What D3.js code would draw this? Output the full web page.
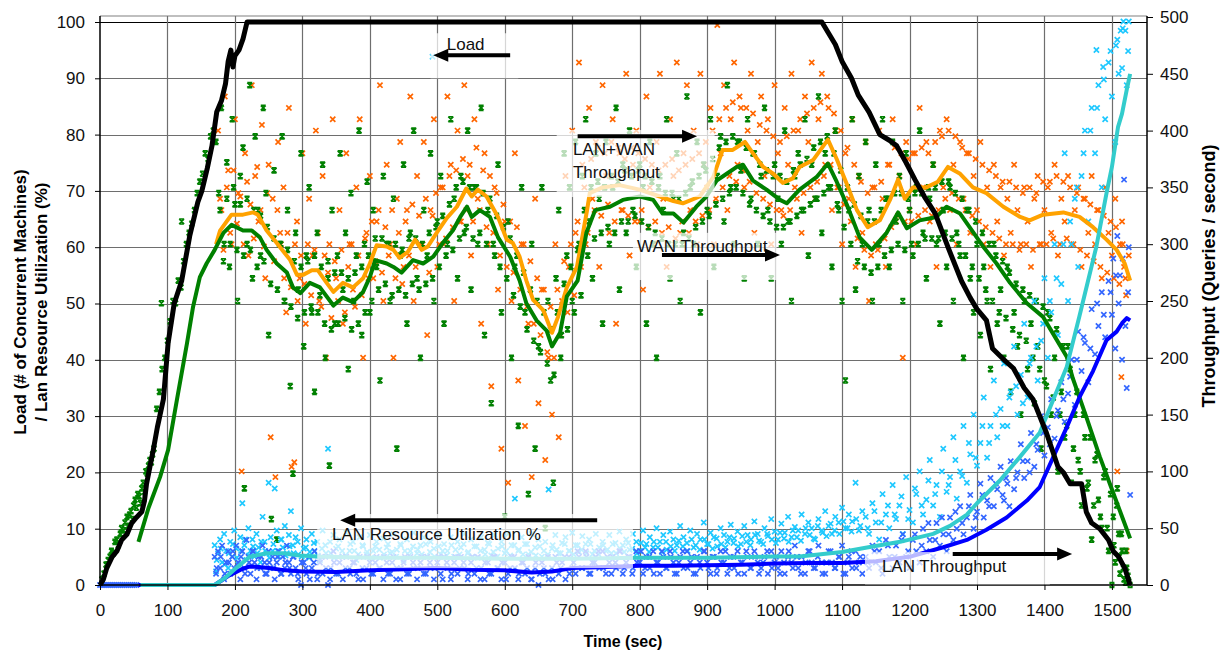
<!DOCTYPE html>
<html>
<head>
<meta charset="utf-8">
<script src="https://cdn.jsdelivr.net/npm/d3@7"></script>
<style>
  body { margin: 0; background: #fff; }
  svg text { font-family: "Liberation Sans", Arial, Helvetica, sans-serif; }
</style>
</head>
<body>
<div id="chart"></div>
<script>
// tick labels
var timeTicks = [0,100,200,300,400,500,600,700,800,900,1000,1100,1200,1300,1400,1500];
var loadTicks = [0,10,20,30,40,50,60,70,80,90,100];
var rateTicks = [0,50,100,150,200,250,300,350,400,450,500];

// Load (# machines), left axis
var loadLine = [[0,0],[5,1],[10,3],[18,5],[25,6],[32,8],[40,9],[47,11],[54,12],[62,13],[66,15],[69,18],[74,21],[79,24],[85,28],[94,33],[101,43],[110,50],[121,54],[133,62],[145,68],[151,70],[159,74],[166,78],[173,84],[180,86],[186,89],[190,93],[194,95],[197,92],[200,94],[206,95],[212,97],[218,100],[1070,100],[1080,98],[1090,96],[1100,93],[1114,90],[1124,87],[1140,84],[1156,80],[1170,79],[1181,78],[1195,75],[1208,72],[1222,69],[1238,66],[1257,60],[1277,54],[1290,51],[1300,49],[1314,47],[1323,42],[1340,40],[1354,38.5],[1370,35],[1383,33],[1403,27],[1420,21],[1428,20],[1438,18],[1455,18],[1462,13],[1470,11],[1482,10],[1495,8],[1502,6],[1510,5],[1519,3],[1527,0]];

// LAN+WAN throughput moving average, right axis
var totalLine = [[172,300],[178,312],[195,326],[212,326],[227,328],[234,326],[247,312],[262,301],[282,286],[292,273],[301,273],[314,277],[323,277],[336,266],[346,258],[360,266],[375,262],[390,270],[400,283],[410,299],[425,298],[435,295],[444,288],[456,293],[467,304],[477,295],[486,298],[499,310],[514,323],[529,333],[543,349],[551,342],[560,348],[573,342],[590,324],[603,304],[612,301],[622,289],[632,268],[642,251],[657,242],[670,222],[679,236],[692,262],[707,280],[722,330],[726,345],[745,350],[770,352],[800,348],[830,342],[850,338],[864,336],[889,342],[909,359],[923,383],[938,383],[956,390],[968,380],[983,368],[998,362],[1012,354],[1027,358],[1037,368],[1057,374],[1079,392],[1092,375],[1107,353],[1122,330],[1138,315],[1156,321],[1171,339],[1183,357],[1193,340],[1205,350],[1225,350],[1242,355],[1257,368],[1275,362],[1294,350],[1314,345],[1339,333],[1364,324],[1378,321],[1398,326],[1428,328],[1452,324],[1472,315],[1492,304],[1507,295],[1519,283],[1527,268]];

// WAN throughput moving average, right axis
var wanLine = [[57,38],[72,68],[89,95],[101,119],[114,163],[129,213],[138,245],[148,271],[158,283],[170,295],[183,310],[195,317],[212,312],[225,312],[237,306],[247,295],[262,283],[277,275],[286,262],[297,257],[311,266],[326,262],[346,246],[360,253],[375,249],[390,258],[400,271],[408,286],[425,283],[435,280],[447,275],[464,286],[479,283],[494,289],[508,301],[523,312],[534,324],[544,333],[551,324],[563,330],[578,324],[590,306],[608,289],[622,268],[632,248],[647,233],[662,224],[670,210],[682,222],[692,254],[708,268],[721,310],[734,330],[756,333],[775,339],[800,342],[820,339],[834,327],[850,327],[865,319],[884,333],[899,342],[914,356],[929,362],[944,368],[953,370],[968,356],[988,348],[1008,339],[1018,336],[1037,348],[1062,359],[1079,371],[1092,355],[1107,335],[1126,306],[1144,295],[1166,310],[1183,328],[1196,314],[1215,321],[1240,324],[1255,333],[1275,327],[1289,315],[1309,298],[1329,283],[1349,266],[1374,248],[1398,236],[1418,216],[1433,201],[1442,182],[1462,148],[1482,113],[1502,81],[1517,57],[1527,41]];

// LAN throughput moving average, right axis
var lanLine = [[60,0],[170,0],[185,6],[198,13],[210,19],[222,25],[247,28],[272,28],[296,26],[321,25],[400,24],[500,24],[600,23],[700,23],[800,24],[900,24],[1000,25],[1037,25],[1100,29],[1137,33],[1186,38],[1235,45],[1260,52],[1285,62],[1300,72],[1334,92],[1364,113],[1393,134],[1413,163],[1433,192],[1452,237],[1477,298],[1492,345],[1500,368],[1509,403],[1515,415],[1522,436],[1527,450]];

// LAN resource utilization moving average, left axis
var utilLine = [[57,0],[170,0],[180,0.8],[190,1.6],[200,2.2],[210,2.8],[222,3.3],[235,3.2],[250,3.0],[275,2.6],[300,2.4],[350,2.3],[400,2.6],[450,2.8],[500,3.0],[550,2.7],[600,2.6],[640,2.2],[670,2.4],[700,3.0],[750,3.2],[800,3.4],[850,3.4],[900,3.5],[950,3.6],[1000,3.8],[1050,3.9],[1100,3.9],[1150,4.2],[1200,5.0],[1250,6.7],[1285,8],[1314,9.8],[1344,12],[1374,15],[1393,17.4],[1413,22.7],[1433,28],[1452,33.4],[1472,38],[1492,43.5],[1507,45],[1515,46.5],[1522,47.4],[1527,47]];

// per-second samples: LAN+WAN throughput
var totalPts = [[175,400],[180,330],[185,430],[190,365],[195,300],[200,410],[205,345],[210,100],[215,380],[220,290],[225,440],[230,360],[235,320],[240,405],[245,270],[250,370],[253,130],[256,340],[260,95],[264,390],[268,300],[272,350],[276,240],[280,420],[284,104],[288,108],[292,320],[296,270],[300,380],[305,230],[310,340],[315,290],[320,400],[325,250],[330,360],[335,200],[340,300],[345,410],[350,270],[355,330],[360,230],[365,380],[370,300],[375,260],[380,350],[385,410],[390,200],[395,310],[400,360],[405,270],[410,320],[415,440],[420,250],[425,370],[430,300],[435,200],[440,340],[445,390],[450,280],[455,330],[460,430],[465,250],[470,360],[475,300],[480,390],[485,220],[490,330],[495,410],[500,280],[505,350],[510,300],[515,430],[520,370],[525,250],[530,400],[535,320],[540,440],[545,360],[550,290],[555,410],[560,340],[565,230],[570,380],[575,300],[580,175],[585,350],[590,260],[595,120],[600,320],[605,90],[610,250],[615,380],[620,180],[625,300],[630,140],[635,230],[640,95],[645,340],[650,160],[655,260],[660,110],[665,200],[670,150],[675,300],[680,130],[685,250],[690,360],[695,280],[700,400],[705,310],[710,460],[715,370],[720,300],[725,420],[730,340],[735,390],[740,280],[745,440],[750,360],[755,310],[760,410],[765,230],[770,380],[775,330],[780,450],[785,290],[790,370],[795,400],[800,320],[805,260],[810,430],[815,350],[820,300],[825,390],[830,450],[835,340],[840,280],[845,410],[850,360],[855,460],[860,310],[865,380],[870,440],[875,330],[880,400],[885,300],[890,450],[895,370],[900,350],[905,420],[910,300],[915,493],[920,380],[925,440],[930,330],[935,410],[940,460],[945,370],[950,420],[955,350],[960,400],[965,450],[970,310],[975,390],[980,430],[985,360],[990,410],[995,300],[1000,440],[1005,380],[1010,330],[1015,420],[1020,370],[1025,450],[1030,350],[1035,400],[1040,310],[1045,430],[1050,390],[1055,460],[1060,340],[1065,410],[1070,450],[1075,370],[1080,420],[1085,330],[1090,400],[1095,350],[1100,300],[1105,380],[1110,340],[1115,410],[1120,280],[1125,360],[1130,310],[1135,390],[1140,250],[1145,350],[1150,300],[1155,400],[1160,340],[1165,280],[1170,370],[1175,410],[1180,320],[1185,360],[1190,200],[1195,390],[1200,330],[1205,380],[1210,300],[1215,420],[1220,350],[1225,390],[1230,320],[1235,370],[1240,280],[1245,400],[1250,350],[1255,410],[1260,330],[1265,370],[1270,300],[1275,390],[1280,340],[1285,380],[1290,310],[1295,360],[1300,330],[1305,390],[1310,300],[1315,350],[1320,280],[1325,370],[1330,320],[1335,350],[1340,290],[1345,340],[1350,310],[1355,370],[1360,330],[1365,300],[1370,350],[1375,320],[1380,280],[1385,340],[1390,360],[1395,300],[1400,330],[1405,350],[1410,310],[1415,370],[1420,290],[1425,340],[1430,320],[1435,360],[1440,300],[1445,330],[1450,350],[1455,280],[1460,340],[1465,310],[1470,360],[1475,300],[1480,330],[1485,270],[1490,350],[1495,310],[1500,290],[1505,340],[1508,100],[1512,300],[1514,183],[1515,320],[1518,280],[1520,270],[1522,30],[1525,290],
[178,340],[183,295],[188,350],[193,310],[198,365],[203,318],[208,342],[213,300],[218,355],[223,335],[228,305],[233,368],[238,330],[243,298],[248,345],[258,285],[263,330],[267,310],[273,270],[278,310],[283,262],[289,300],[293,250],[298,290],[303,265],[308,300],[313,255],[318,295],[323,310],[328,245],[333,290],[338,275],[343,235],[348,285],[353,250],[358,295],[363,240],[368,280],[373,300],[378,245],[383,290],[388,255],[393,305],[398,270],[403,320],[408,285],[413,330],[418,275],[423,315],[428,290],[433,330],[438,270],[443,310],[448,265],[453,320],[458,290],[463,335],[468,280],[473,325],[478,300],[483,340],[488,275],[493,325],[498,345],[503,300],[508,350],[513,305],[518,360],[523,315],[528,365],[533,320],[538,375],[543,330],[548,370],[553,320],[558,385],[563,330],[568,365],[573,315],[578,360],[583,310],[588,345],[593,290],[598,335],[603,280],[608,320],[613,275],[618,315],[623,260],[628,300],[633,245],[638,285],[643,230],[648,270],[653,220],[658,260],[663,205],[668,245],[673,200],[678,260],[683,220],[688,285],[693,240],[698,300],[703,255],[708,320],[713,280],[718,350],[723,310],[728,375],[733,330],[738,385],[743,325],[748,380],[753,335],[758,390],[763,320],[768,385],[773,330],[778,375],[783,325],[788,385],[793,320],[798,380],[803,330],[808,375],[813,315],[818,370],[823,320],[828,365],[833,310],[838,370],[843,315],[848,375],[853,305],[858,365],[863,320],[868,370],[873,310],[878,375],[883,320],[888,380],[893,325],[898,390],[903,330],[908,400],[913,340],[918,410],[923,350],[928,420],[933,360],[938,425],[943,355],[948,430],[953,365],[958,420],[963,355],[968,415],[973,345],[978,405],[983,340],[988,400],[993,335],[998,395],[1003,330],[1008,390],[1013,325],[1018,395],[1023,330],[1028,400],[1033,340],[1038,410],[1043,345],[1048,415],[1053,350],[1058,420],[1063,355],[1068,425],[1073,360],[1078,430],[1083,370],[1088,415],[1093,350],[1098,400],[1103,335],[1108,385],[1113,320],[1118,370],[1123,305],[1128,355],[1133,295],[1138,345],[1143,290],[1148,350],[1153,295],[1158,355],[1163,305],[1168,370],[1173,315],[1178,385],[1183,325],[1188,380],[1193,320],[1198,375],[1203,320],[1208,380],[1213,325],[1218,385],[1223,330],[1228,380],[1233,325],[1238,390],[1243,330],[1248,395],[1253,340],[1258,400],[1263,345],[1268,395],[1273,340],[1278,385],[1283,330],[1288,380],[1293,325],[1298,375],[1303,320],[1308,370],[1313,315],[1318,365],[1323,310],[1328,360],[1333,305],[1338,355],[1343,300],[1348,355],[1353,300],[1358,350],[1363,295],[1368,345],[1373,300],[1378,350],[1383,295],[1388,345],[1393,300],[1398,355],[1403,300],[1408,355],[1413,305],[1418,360],[1423,300],[1428,355],[1433,305],[1438,350],[1443,300],[1448,345],[1453,295],[1458,340],[1463,290],[1468,335],[1473,285],[1478,330],[1483,280],[1488,325],[1493,275],[1498,320],[1503,270],[1506,315],[1511,265],[1516,300],[1521,255]];

// WAN throughput
var wanPts = [[3,5],[6,10],[9,18],[12,22],[15,25],[17,30],[20,28],[22,38],[25,40],[27,35],[30,45],[32,50],[35,48],[37,55],[40,60],[42,52],[44,62],[46,65],[48,58],[50,70],[52,75],[54,68],[56,80],[58,78],[60,72],[62,85],[64,90],[66,82],[68,100],[70,98],[72,105],[74,110],[76,108],[78,115],[80,120],[84,155],[88,170],[91,248],[92,190],[96,200],[100,215],[104,232],[108,250],[112,248],[116,268],[120,262],[121,320],[124,285],[128,300],[132,310],[136,318],[140,330],[144,345],[148,355],[152,362],[156,380],[160,375],[164,395],[168,400],
[172,390],[176,345],[180,420],[184,300],[188,372],[192,280],[196,410],[200,335],[204,250],[208,360],[212,385],[214,85],[218,300],[222,440],[226,270],[230,395],[234,330],[238,290],[242,420],[246,345],[250,220],[254,58],[258,365],[262,40],[266,300],[270,395],[274,250],[278,330],[282,175],[286,98],[290,310],[294,260],[298,380],[302,210],[306,290],[310,350],[314,240],[318,170],[322,310],[326,255],[330,370],[334,200],[338,285],[340,105],[344,330],[348,230],[352,290],[356,380],[360,260],[364,310],[368,190],[372,345],[376,250],[380,290],[384,400],[388,220],[392,300],[396,355],[400,240],[405,330],[410,280],[415,180],[420,360],[425,300],[430,250],[435,340],[440,120],[445,290],[450,370],[455,230],[460,310],[465,400],[470,270],[475,200],[480,330],[485,290],[490,380],[495,250],[500,320],[505,360],[510,230],[515,300],[520,410],[525,340],[530,270],[535,360],[540,310],[545,400],[550,260],[555,350],[560,300],[565,420],[570,220],[575,330],[580,160],[585,290],[590,370],[595,240],[600,60],[605,320],[610,200],[615,280],[620,140],[625,350],[630,240],[635,80],[640,300],[645,120],[650,210],[655,350],[660,50],[664,250],[668,180],[672,90],[676,270],[680,330],[684,220],[688,380],[692,290],[696,350],[700,250],[705,390],[710,300],[715,360],[720,410],[725,320],[730,270],[735,380],[740,340],[745,230],[750,390],[755,300],[760,350],[765,420],[770,260],[775,370],[780,310],[785,400],[790,330],[795,280],[800,370],[805,350],[810,230],[815,390],[820,300],[825,200],[830,360],[835,330],[840,410],[845,270],[850,340],[855,380],[860,250],[865,310],[870,430],[875,350],[880,300],[885,390],[890,240],[895,370],[900,330],[905,410],[910,280],[915,360],[920,395],[925,320],[930,440],[935,350],[940,300],[945,390],[950,365],[955,270],[960,410],[965,340],[970,380],[975,300],[980,360],[985,420],[990,330],[995,270],[1000,370],[1005,340],[1010,300],[1015,400],[1020,320],[1025,250],[1030,360],[1035,380],[1040,330],[1045,410],[1050,290],[1055,370],[1060,340],[1065,430],[1070,310],[1075,380],[1080,350],[1085,280],[1090,400],[1095,330],[1100,250],[1105,180],
[1110,330],[1115,410],[1120,260],[1125,360],[1130,300],[1135,390],[1140,330],[1145,250],[1150,370],[1155,300],[1160,410],[1165,340],[1170,280],[1175,390],[1180,320],[1185,360],[1190,250],[1195,380],[1200,330],[1205,290],[1210,350],[1215,400],[1220,310],[1225,270],[1230,340],[1235,370],[1240,300],[1245,230],[1250,330],[1255,280],[1260,350],[1265,250],[1270,310],[1275,290],[1280,200],[1285,330],[1290,270],[1295,240],[1300,300],[1305,220],[1310,280],[1315,250],[1320,190],[1325,300],[1330,230],[1335,260],[1340,200],[1345,280],[1350,170],[1355,240],[1360,210],[1365,150],[1370,250],[1375,190],[1380,230],[1385,160],[1390,210],[1395,120],[1400,180],[1405,240],[1410,150],[1415,200],[1420,100],[1425,170],[1430,130],[1435,210],[1440,90],[1445,150],[1450,110],[1455,70],[1460,130],[1465,90],[1470,40],[1475,110],[1480,75],[1485,50],[1490,100],[1495,30],[1500,0],[1502,60],[1505,20],[1508,85],[1510,45],[1512,10],[1515,30],[1518,5],[1520,2],[1522,15],[1525,3],[1527,0],
[178,330],[183,285],[188,340],[193,300],[198,350],[203,295],[208,335],[213,290],[218,340],[223,295],[228,330],[233,280],[238,325],[243,285],[248,315],[253,265],[258,305],[263,260],[268,300],[273,250],[278,295],[283,245],[288,285],[293,235],[298,280],[303,240],[308,285],[313,245],[318,290],[323,240],[328,280],[333,230],[338,270],[343,225],[348,275],[353,230],[358,275],[363,235],[368,270],[373,225],[378,275],[383,230],[388,280],[393,240],[398,290],[403,250],[408,305],[413,260],[418,305],[423,265],[428,300],[433,255],[438,300],[443,260],[448,295],[453,255],[458,305],[463,265],[468,305],[473,260],[478,300],[483,265],[488,310],[493,270],[498,315],[503,280],[508,325],[513,290],[518,335],[523,295],[528,350],[533,305],[538,355],[543,315],[548,350],[553,305],[558,350],[563,310],[568,345],[573,300],[578,340],[583,300],[588,325],[593,280],[598,315],[603,270],[608,305],[613,255],[618,290],[623,245],[628,275],[633,225],[638,260],[643,215],[648,250],[653,205],[658,240],[663,195],[668,225],[673,185],[678,240],[683,200],[688,265],[693,225],[698,280],[703,240],[708,295],[713,255],[718,330],[723,290],[728,350],[733,305],[738,355],[743,310],[748,350],[753,315],[758,360],[763,310],[768,355],[773,320],[778,365],[783,320],[788,360],[793,325],[798,365],[803,320],[808,360],[813,315],[818,355],[823,310],[828,350],[833,305],[838,345],[843,300],[848,345],[853,300],[858,340],[863,300],[868,345],[873,305],[878,355],[883,315],[888,360],[893,320],[898,365],[903,325],[908,375],[913,335],[918,385],[923,340],[928,390],[933,345],[938,395],[943,350],[948,390],[953,345],[958,385],[963,335],[968,380],[973,330],[978,370],[983,325],[988,365],[993,320],[998,360],[1003,315],[1008,360],[1013,315],[1018,355],[1023,320],[1028,365],[1033,325],[1038,370],[1043,330],[1048,375],[1053,335],[1058,385],[1063,340],[1068,390],[1073,345],[1078,395],[1083,350],[1088,380],[1093,335],[1098,365],[1103,315],[1108,350],[1113,300],[1118,335],[1123,285],[1128,325],[1133,280],[1138,320],[1143,275],[1148,320],[1153,280],[1158,330],[1163,290],[1168,340],[1173,295],[1178,345],[1183,300],[1188,345],[1193,295],[1198,340],[1203,300],[1208,345],[1213,300],[1218,345],[1223,305],[1228,350],[1233,305],[1238,350],[1243,305],[1248,355],[1253,310],[1258,355],[1263,305],[1268,345],[1273,300],[1278,340],[1283,290],[1288,330],[1293,280],[1298,320],[1303,270],[1308,310],[1313,260],[1318,300],[1323,250],[1328,290],[1333,240],[1338,285],[1343,235],[1348,275],[1353,225],[1358,265],[1363,220],[1368,260],[1373,215],[1378,255],[1383,200],[1388,250],[1393,190],[1398,245],[1403,175],[1408,235],[1413,165],[1418,225],[1423,150],[1428,210],[1433,140],[1438,190],[1443,120],[1448,170],[1453,100],[1458,150],[1463,85],[1468,130],[1473,70],[1478,115],[1483,60],[1488,95],[1493,50],[1498,80],[1503,35],[1507,70],[1511,25],[1514,45],[1517,15],[1521,30],[1524,8]];

// LAN throughput
var lanPts = [[170,35],[172,12],[175,28],[178,40],[181,20],[184,45],[187,30],[190,15],[193,38],[196,25],[199,48],[202,32],[205,18],[208,42],[211,72],[214,35],[217,22],[220,50],[223,30],[226,40],[229,25],[232,45],[235,33],[238,20],[241,60],[244,38],[247,28],[250,90],[253,42],[256,30],[259,85],[262,48],[265,25],[268,40],[271,33],[274,52],[277,28],[280,44],[283,65],[286,35],[290,42],[294,27],[298,50],[302,32],[306,40],[310,24],[314,45],[318,30],[322,38],[326,22],[330,48],[334,35],[338,120],[342,28],[346,44],[350,32],[355,40],[360,25],[365,46],[370,30],[375,38],[380,22],[385,42],[390,34],[395,27],[400,44],[405,30],[410,38],[415,24],[420,41],[425,33],[430,28],[435,45],[440,31],[445,36],[450,22],[455,40],[460,30],[465,46],[470,28],[475,35],[480,42],[485,25],[490,38],[493,465],[495,32],[500,44],[505,27],[510,36],[515,30],[520,42],[525,25],[530,38],[535,33],[540,45],[545,28],[550,40],[555,34],[560,24],[565,42],[570,31],[575,37],[580,26],[585,44],[590,32],[595,38],[600,28],[605,45],[610,35],[615,76],[620,30],[625,42],[630,36],[635,27],[640,45],[645,33],[650,40],[655,25],[660,38],[665,84],[670,32],[675,44],[680,28],[685,37],[690,42],[695,30],[700,46],[705,35],[710,29],[715,43],[720,36],[725,40],[730,27],[735,45],[740,33],[745,38],[750,30],[755,44],[760,36],[765,28],[770,47],[775,35],[780,40],[785,31],[790,45],[795,38],[800,30],[805,48],[810,36],[815,42],[820,33],[825,50],[830,38],[835,44],[840,31],[845,47],[850,40],[855,35],[860,52],[865,42],[870,37],[875,48],[880,33],[885,45],[890,40],[895,55],[900,36],[905,46],[910,42],[915,34],[920,50],[925,44],[930,38],[935,53],[940,41],[945,47],[950,36],[955,52],[960,44],[965,40],[970,56],[975,45],[980,38],[985,50],[990,43],[995,58],[1000,47],[1005,40],[1010,54],[1015,46],[1020,60],[1025,42],[1030,51],[1035,48],[1040,62],[1045,45],[1050,55],[1055,50],[1060,40],[1065,58],[1070,48],[1075,65],[1080,52],[1085,45],[1090,60],[1095,55],[1100,68],[1105,50],[1110,62],[1115,56],[1120,90],[1125,48],[1130,65],
[1135,60],[1140,45],[1145,72],[1150,55],[1155,40],[1160,80],[1165,62],[1170,50],[1175,88],[1180,58],[1185,70],[1190,45],[1195,95],[1200,66],[1205,55],[1210,80],[1215,100],[1220,62],[1225,75],[1230,110],[1235,70],[1240,88],[1245,60],[1250,120],[1255,82],[1260,95],[1265,130],[1270,76],[1275,100],[1280,140],[1285,90],[1290,115],[1295,150],[1300,105],[1305,125],[1310,165],[1315,112],[1320,140],[1325,180],[1330,130],[1335,155],[1340,195],[1345,140],[1350,170],[1355,210],[1360,150],[1365,185],[1370,230],[1375,165],[1380,200],[1385,250],[1390,180],[1395,215],[1400,270],[1405,200],[1410,240],[1415,300],[1420,220],[1425,265],[1430,380],[1435,250],[1440,300],[1445,340],[1450,280],[1455,360],[1460,400],[1465,320],[1470,420],[1475,380],[1477,471],[1480,440],[1485,350],[1487,456],[1490,410],[1495,460],[1500,430],[1505,390],[1508,480],[1510,450],[1513,488],[1515,455],[1517,496],[1520,488],[1522,440],[1525,496],
[173,22],[179,32],[185,18],[191,28],[197,36],[203,24],[209,30],[215,40],[221,26],[227,34],[233,28],[239,38],[245,30],[251,24],[257,36],[263,30],[269,40],[275,26],[281,34],[287,28],[293,38],[299,25],[305,33],[311,29],[317,37],[323,26],[329,32],[335,28],[341,38],[347,24],[353,34],[359,30],[364,26],[371,36],[377,30],[383,27],[389,35],[396,29],[402,24],[408,34],[414,31],[421,27],[427,36],[433,29],[439,25],[446,35],[452,30],[458,26],[464,34],[471,31],[477,27],[483,36],[489,29],[496,25],[502,34],[508,30],[514,26],[521,35],[527,31],[533,27],[539,36],[546,29],[552,25],[558,34],[564,30],[571,27],[577,36],[583,29],[589,25],[596,34],[602,30],[608,26],[614,35],[621,31],[627,27],[633,36],[639,29],[646,26],[652,34],[658,30],[664,27],[671,35],[677,31],[683,28],[689,36],[696,30],[702,27],[708,35],[714,31],[721,28],[727,36],[733,30],[739,27],[746,35],[752,31],[758,28],[764,37],[771,32],[777,29],[783,37],[789,32],[796,28],[802,37],[808,33],[814,29],[821,38],[827,33],[833,29],[839,38],[846,34],[852,30],[858,39],[864,34],[871,30],[877,40],[883,35],[889,31],[896,40],[902,36],[908,32],[914,41],[921,36],[927,33],[933,42],[939,37],[946,34],[952,43],[958,38],[964,35],[971,44],[977,39],[983,36],[989,45],[996,40],[1002,37],[1008,46],[1014,41],[1021,38],[1027,48],[1033,42],[1039,39],[1046,50],[1052,44],[1058,41],[1064,52],[1071,46],[1077,43],[1083,54],[1089,48],[1096,45],[1102,56],[1108,50],[1114,47],[1121,58],[1127,52],
[1138,50],[1148,65],[1158,55],[1168,70],[1178,62],[1188,78],[1198,58],[1208,85],[1218,70],[1228,92],[1238,80],[1248,100],[1258,88],[1268,110],[1278,96],[1288,125],[1298,112],[1308,140],[1318,125],[1328,150],[1338,140],[1348,165],[1358,175],[1368,160],[1378,195],[1388,210],[1398,230],[1408,250],[1418,270],[1428,300],[1438,320],[1448,350],[1458,380],[1468,400],[1478,420],[1488,445],[1498,470],[1506,475],[1516,490],[1524,470]];

// LAN resource utilization
var utilPts = [[0,0],[3,0],[6,0],[9,0],[12,0],[15,0],[18,0],[21,0],[24,0],[27,0],[30,0],[33,0],[36,0],[39,0],[42,0],[45,0],[48,0],[51,0],[54,0],
[170,5],[172,2],[175,6],[178,3],[181,7],[184,1],[187,4],[190,6],[193,2],[196,5],[199,3],[202,7],[205,4],[208,1],[211,6],[214,3],[217,8],[220,5],[223,2],[226,6],[229,4],[232,1],[235,5],[238,3],[241,7],[244,4],[247,2],[250,6],[253,3],[256,5],[259,1],[262,4],[265,6],[268,2],[271,5],[274,3],[277,7],[280,4],[283,2],[286,5],[290,3],[294,1],[298,0],[302,4],[306,2],[310,5],[314,3],[318,6],[322,1],[326,4],[330,2],[334,5],[338,0],[342,3],[346,6],[350,2],[355,4],[360,1],[365,5],[370,3],[375,4],[380,2],[385,5],[390,1],[395,3],[400,4],[405,2],[410,5],[415,3],[420,1],[425,4],[430,2],[435,5],[440,3],[445,1],[450,4],[455,2],[460,5],[465,3],[470,1],[475,4],[480,2],[485,5],[490,3],[495,1],[500,4],[505,2],[510,5],[515,3],[520,1],[525,4],[530,2],[535,5],[540,3],[545,1],[550,4],[555,2],[560,5],[565,3],[570,1],[575,4],[580,2],[585,5],[590,3],[595,1],[600,4],[605,2],[610,5],[615,3],[620,1],[625,4],[630,2],[635,5],[640,1],[645,3],[650,0],[655,4],[660,2],[665,1],[670,3],[675,5],[680,2],[685,4],[690,1],[695,5],[700,3],[705,2],[710,5],[715,3],[720,6],[725,2],[730,4],[735,5],[740,3],[745,6],[750,2],[755,4],[760,5],[765,3],[770,6],[775,2],[780,4],[785,5],[790,3],[795,6],[800,4],[805,2],[810,5],[815,3],[820,6],[825,4],[830,2],[835,5],[840,3],[845,6],[850,4],[855,2],[860,5],[865,3],[870,6],[875,4],[880,2],[885,5],[890,3],[895,6],[900,4],[905,2],[910,5],[915,3],[920,6],[925,4],[930,2],[935,5],[940,3],[945,6],[950,4],[955,2],[960,5],[965,3],[970,6],[975,4],[980,3],[985,5],[990,2],[995,6],[1000,4],[1005,3],[1010,6],[1015,2],[1020,5],[1025,4],[1030,7],[1035,3],[1040,5],[1045,2],[1050,6],[1055,4],[1060,3],[1065,7],[1070,4],[1075,2],[1080,6],[1085,4],[1090,3],[1095,5],[1100,7],[1105,2],[1110,5],[1115,3],[1120,6],[1125,4],[1130,2],
[1135,5],[1140,3],[1145,7],[1150,4],[1155,6],[1160,2],[1165,8],[1170,5],[1175,3],[1180,7],[1185,4],[1190,9],[1195,5],[1200,3],[1205,8],[1210,6],[1215,4],[1220,10],[1225,6],[1230,8],[1235,5],[1240,11],[1245,7],[1250,9],[1255,6],[1260,12],[1265,8],[1270,10],[1275,14],[1280,9],[1285,12],[1290,16],[1295,10],[1300,13],[1305,18],[1310,12],[1315,15],[1320,19],[1325,14],[1330,17],[1335,21],[1340,15],[1345,18],[1350,22],[1355,17],[1360,20],[1365,25],[1370,19],[1375,22],[1380,27],[1385,21],[1390,24],[1395,30],[1400,23],[1405,28],[1410,33],[1415,26],[1420,31],[1425,36],[1430,29],[1435,34],[1440,40],[1445,32],[1450,45],[1455,38],[1460,43],[1465,36],[1470,49],[1475,41],[1480,46],[1485,52],[1490,44],[1495,54],[1500,48],[1502,58],[1505,42],[1508,62],[1510,50],[1512,55],[1515,40],[1518,72],[1520,46],[1522,35],[1525,60],[1527,16],
[173,3],[179,5],[185,2],[191,4],[197,6],[203,3],[209,5],[215,2],[221,4],[227,6],[233,3],[239,5],[245,2],[251,4],[257,3],[263,5],[269,2],[275,4],[281,3],[287,5],[293,2],[299,4],[305,3],[311,1],[317,4],[323,2],[329,5],[335,3],[341,1],[347,4],[353,2],[359,5],[364,3],[371,2],[377,4],[383,1],[389,3],[396,5],[402,2],[408,4],[414,3],[421,5],[427,2],[433,4],[439,1],[446,3],[452,5],[458,2],[464,4],[471,3],[477,5],[483,2],[489,4],[496,3],[502,5],[508,1],[514,4],[521,2],[527,5],[533,3],[539,4],[546,2],[552,5],[558,3],[564,1],[571,4],[577,2],[583,5],[589,3],[596,4],[602,1],[608,3],[614,5],[621,2],[627,4],[633,3],[639,1],[646,4],[652,2],[658,3],[664,5],[671,1],[677,4],[683,3],[689,5],[696,2],[702,4],[708,6],[714,3],[721,5],[727,2],[733,4],[739,6],[746,3],[752,5],[758,2],[764,4],[771,6],[777,3],[783,5],[789,2],[796,4],[802,6],[808,3],[814,5],[821,2],[827,4],[833,6],[839,3],[846,5],[852,2],[858,4],[864,6],[871,3],[877,5],[883,2],[889,4],[896,6],[902,3],[908,5],[914,2],[921,4],[927,6],[933,3],[939,5],[946,2],[952,4],[958,6],[964,3],[971,5],[977,2],[983,4],[989,6],[996,3],[1002,5],[1008,2],[1014,4],[1021,6],[1027,3],[1033,5],[1039,2],[1046,4],[1052,6],[1058,3],[1064,5],[1071,2],[1077,4],[1083,6],[1089,3],[1096,5],[1102,2],[1108,4],[1114,6],[1121,3],[1127,5],
[1138,4],[1148,6],[1158,3],[1168,7],[1178,5],[1188,8],[1198,6],[1208,9],[1218,7],[1228,11],[1238,8],[1248,12],[1258,9],[1268,13],[1278,11],[1288,14],[1298,12],[1308,16],[1318,14],[1328,18],[1338,16],[1343,19],[1348,14],[1358,19],[1368,22],[1378,20],[1388,25],[1398,27],[1408,25],[1418,30],[1428,33],[1438,37],[1448,40],[1458,44],[1468,42],[1478,50],[1488,48],[1498,52],[1506,55],[1516,58],[1524,52]];

var W = 1226, H = 655;
var svg = d3.select("#chart").append("svg")
  .attr("width", W).attr("height", H);

var x = d3.scaleLinear().domain([0, 1552]).range([100, 1147]);
var yL = d3.scaleLinear().domain([0, 100]).range([585, 22]);
var yR = d3.scaleLinear().domain([0, 500]).range([585, 17]);

// frame + grid
svg.append("line").attr("x1", 100).attr("x2", 1147).attr("y1", 16).attr("y2", 16)
  .attr("stroke", "#aaa").attr("stroke-width", 1.5);

svg.append("g").selectAll("line").data(loadTicks.slice(1))
  .enter().append("line")
  .attr("x1", 100).attr("x2", 1147)
  .attr("y1", function(d){ return Math.round(yL(d)) + 0.5; })
  .attr("y2", function(d){ return Math.round(yL(d)) + 0.5; })
  .attr("stroke", function(d){ return d == 100 ? "#000" : "#6e6e6e"; })
  .attr("stroke-width", 1.2);

svg.append("g").selectAll("line").data(timeTicks.slice(1))
  .enter().append("line")
  .attr("x1", function(d){ return Math.round(x(d)) + 0.5; })
  .attr("x2", function(d){ return Math.round(x(d)) + 0.5; })
  .attr("y1", 16).attr("y2", 585)
  .attr("stroke", "#6e6e6e")
  .attr("stroke-width", 1.2);

// markers
var crossPath = "M-2.6,-2.6L2.6,2.6M2.6,-2.6L-2.6,2.6";
var bowPath = "M-2.5,-2.5L2.5,2.5M2.5,-2.5L-2.5,2.5M-2.5,-2.5H2.5M-2.5,2.5H2.5";

function scatter(pts, yScale, color, shape) {
  svg.append("g").selectAll("path").data(pts)
    .enter().append("path")
    .attr("d", shape)
    .attr("transform", function(d){ return "translate(" + x(d[0]) + "," + yScale(d[1]) + ")"; })
    .attr("fill", "none")
    .attr("stroke", color)
    .attr("stroke-width", 1.7);
}

scatter(totalPts, yR, "#ff6600", crossPath);
scatter(wanPts, yR, "#008000", bowPath);
scatter(lanPts, yR, "#1ec8ff", crossPath);
scatter(utilPts, yL, "#3366ff", crossPath);

function drawLine(pts, yScale, color, width) {
  var gen = d3.line()
    .x(function(d){ return x(d[0]); })
    .y(function(d){ return yScale(d[1]); });
  svg.append("path").datum(pts)
    .attr("d", gen)
    .attr("fill", "none")
    .attr("stroke", color)
    .attr("stroke-width", width)
    .attr("stroke-linejoin", "round");
}

drawLine(totalLine, yR, "#ffa200", 4);
drawLine(wanLine, yR, "#008000", 4);
drawLine(utilLine, yL, "#0000ff", 4);
drawLine(lanLine, yR, "#33cccc", 4);
drawLine(loadLine, yL, "#000", 5);

// axes
var fmt = d3.format("d");
var gx = svg.append("g").attr("transform", "translate(0,585)")
  .call(d3.axisBottom(x).tickValues(timeTicks).tickFormat(fmt).tickSize(5).tickPadding(14));
var gl = svg.append("g").attr("transform", "translate(100,0)")
  .call(d3.axisLeft(yL).tickValues(loadTicks).tickFormat(fmt).tickSize(5).tickPadding(10));
var gr = svg.append("g").attr("transform", "translate(1147,0)")
  .call(d3.axisRight(yR).tickValues(rateTicks).tickFormat(fmt).tickSize(6).tickPadding(7));

[gx, gl, gr].forEach(function(g){
  g.select(".domain").attr("stroke", "#000").attr("stroke-width", 1.5);
  g.selectAll(".tick line").attr("stroke", "#000");
  g.selectAll(".tick text")
    .attr("font-family", "Liberation Sans, Arial, sans-serif")
    .attr("font-size", 17).attr("fill", "#111");
});
gl.select(".domain").attr("d", "M0,585V16");
gr.select(".domain").attr("d", "M0,585V16");
gx.select(".domain").attr("d", "M100,0H1147");

// axis titles
svg.append("text").attr("x", 623).attr("y", 647)
  .attr("text-anchor", "middle").attr("font-weight", "bold").attr("font-size", 16)
  .text("Time (sec)");

svg.append("text").attr("transform", "translate(26,302) rotate(-90)")
  .attr("text-anchor", "middle").attr("font-weight", "bold").attr("font-size", 17)
  .text("Load (# of Concurrent Machines)");
svg.append("text").attr("transform", "translate(47,302) rotate(-90)")
  .attr("text-anchor", "middle").attr("font-weight", "bold").attr("font-size", 17)
  .text("/ Lan Resource Utilization (%)");

svg.append("text").attr("transform", "translate(1215,276) rotate(-90)")
  .attr("text-anchor", "middle").attr("font-weight", "bold").attr("font-size", 18)
  .text("Throughput (Queries / second)");

// annotations: faded boxes, labels and arrows
function box(t0, t1, y0, y1) {
  svg.append("rect")
    .attr("x", x(t0)).attr("y", y0)
    .attr("width", x(t1) - x(t0)).attr("height", y1 - y0)
    .attr("fill", "#fff").attr("opacity", 0.72);
}
function label(t, y, txt) {
  svg.append("text").attr("x", x(t)).attr("y", y)
    .attr("font-size", 17).attr("fill", "#111").text(txt);
}
function arrow(t0, t1, y) {
  var x0 = x(t0), x1 = x(t1), dir = x1 > x0 ? 1 : -1;
  svg.append("line").attr("x1", x0).attr("x2", x1 - dir * 12)
    .attr("y1", y).attr("y2", y)
    .attr("stroke", "#000").attr("stroke-width", 4);
  svg.append("path")
    .attr("d", "M" + x1 + "," + y + "L" + (x1 - dir * 15) + "," + (y - 6.5) + "L" + (x1 - dir * 15) + "," + (y + 6.5) + "Z")
    .attr("fill", "#000");
}

box(490, 620, yL(98), yL(90));
label(514, yL(95), "Load");
arrow(608, 494, yL(94.1));

box(677, 911, yR(400.5), yR(341.5));
label(701, yR(378.5), "LAN+WAN");
label(701, yR(358), "Throughput");
arrow(708, 885, yR(395));

box(790, 1003, yR(310), yR(268.5));
label(796, yR(293), "WAN Throughput");
arrow(833, 1008, yR(290.5));

box(322, 790, yL(12.6), yL(3.0));
label(344, yL(8), "LAN Resource Utilization %");
arrow(737, 356, yL(11.5));

box(1134, 1408, yR(29), yR(0.5));
label(1159, yR(11.4), "LAN Throughput");
arrow(1264, 1441, yR(27.3));
</script>
</body>
</html>
